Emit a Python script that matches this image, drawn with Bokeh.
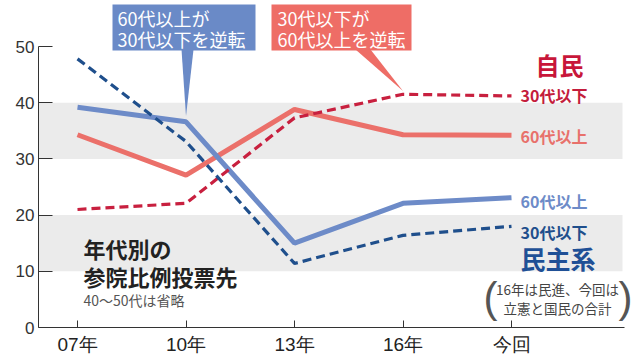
from bokeh.plotting import figure
from bokeh.models import Range1d, FixedTicker, BoxAnnotation, Label, PolyAnnotation
from bokeh.embed import file_html
from bokeh.resources import INLINE

# ---- data ----
years = ["07年", "10年", "13年", "16年", "今回"]
x_idx = [0, 1, 2, 3, 4]
jimin_u30 = [21.0, 22.1, 37.3, 41.5, 41.2]
jimin_o60 = [34.3, 27.1, 38.8, 34.3, 34.2]
minshu_o60 = [39.2, 36.6, 15.0, 22.1, 23.1]
minshu_u30 = [47.8, 33.1, 11.4, 16.4, 18.0]
y_ticks = [0, 10, 20, 30, 40, 50]

# ---- layout helpers (picture pixel -> data units, for annotations only) ----
X0, DX = 77.0, 108.5
Y0, DY = 327.0, 5.62
def X(px):
    return (px - X0) / DX
def Y(py):
    return (Y0 - py) / DY

W, H = 635, 357
x_start, x_end = X(38), X(635)
y_start, y_end = 0, Y(0)

p = figure(width=W, height=H, output_backend="svg", toolbar_location=None,
           x_range=Range1d(x_start, x_end), y_range=Range1d(y_start, y_end),
           min_border_left=38, min_border_right=0, min_border_top=0,
           min_border_bottom=30)
p.outline_line_color = None
p.xgrid.visible = False
p.ygrid.visible = False
p.background_fill_color = "white"

JP = "Noto Sans CJK JP"
NUM = "Liberation Sans"

# gray bands
for b, t in [(30, 40), (10, 20)]:
    p.add_layout(BoxAnnotation(bottom=b, top=t, left=x_start, right=X(622),
                               fill_color="#ebebeb", fill_alpha=1, line_color=None,
                               level="underlay"))

# lines
p.line(x_idx, jimin_o60, line_color="#eb706a", line_width=5)
p.line(x_idx, minshu_o60, line_color="#6d8bc8", line_width=5)
p.line(x_idx, jimin_u30, line_color="#c8203f", line_width=3.2, line_dash="9 5")
p.line(x_idx, minshu_u30, line_color="#1f4f8c", line_width=3.2, line_dash="9 5")

# axes
yax = p.yaxis[0]
yax.ticker = FixedTicker(ticks=y_ticks)
yax.bounds = (0, 50)
yax.major_tick_in = 14
yax.major_tick_out = 0
yax.minor_tick_line_color = None
yax.axis_line_color = "#333333"
yax.major_tick_line_color = "#333333"
yax.major_label_text_font = NUM
yax.major_label_text_font_size = "17px"
yax.major_label_text_color = "#333333"
yax.major_label_standoff = 4

xax = p.xaxis[0]
xax.ticker = FixedTicker(ticks=x_idx)
xax.major_label_overrides = {i: s for i, s in zip(x_idx, years)}
xax.bounds = (x_start, X(624))
xax.major_tick_in = 7
xax.major_tick_out = 0
xax.minor_tick_line_color = None
xax.axis_line_color = "#333333"
xax.major_tick_line_color = "#333333"
xax.major_label_text_font = NUM
xax.major_label_text_font_size = "19px"
xax.major_label_text_color = "#222222"
xax.major_label_standoff = 6

def lab(px, py, text, size, color, bold=False, align="left", font=JP):
    p.add_layout(Label(x=X(px), y=Y(py), text=text, text_font=font,
                       text_font_size=f"{size}px", text_color=color,
                       text_font_style="bold" if bold else "normal",
                       text_align=align, text_baseline="middle"))

# (%)
lab(25, 24, "(%)", 14, "#333333", align="center", font=NUM)

# callout boxes
BLUE_BOX = "#6a8ac7"
RED_BOX = "#ee6d66"
p.add_layout(BoxAnnotation(left=X(112), right=X(255), bottom=Y(50), top=Y(4),
                           fill_color=BLUE_BOX, fill_alpha=1, line_color=None))
p.add_layout(PolyAnnotation(xs=[X(181), X(193), 1], ys=[Y(49), Y(49), minshu_o60[1] + 1.0],
                            fill_color=BLUE_BOX, fill_alpha=1, line_color=None))
p.add_layout(BoxAnnotation(left=X(271), right=X(411), bottom=Y(50), top=Y(4),
                           fill_color=RED_BOX, fill_alpha=1, line_color=None))
p.add_layout(PolyAnnotation(xs=[X(355), X(370), 3], ys=[Y(49), Y(49), jimin_u30[3] + 0.6],
                            fill_color=RED_BOX, fill_alpha=1, line_color=None))
lab(117, 17, "60代以上が", 18, "white")
lab(117, 38, "30代以下を逆転", 18, "white")
lab(277, 17, "30代以下が", 18, "white")
lab(277, 38, "60代以上を逆転", 18, "white")

# right labels
lab(559, 64, "自民", 24, "#c8163a", bold=True, align="center")
lab(520, 94, "30代以下", 16, "#c41d3c", bold=True)
lab(520, 135, "60代以上", 16, "#e8716b", bold=True)
lab(520, 200, "60代以上", 16, "#6d8bc8", bold=True)
lab(520, 231, "30代以下", 16, "#1f4f8c", bold=True)
lab(520, 257, "民主系", 25, "#1f5096", bold=True)
lab(557, 288, "16年は民進、今回は", 13.5, "#444444", align="center")
lab(557, 307, "立憲と国民の合計", 13.5, "#444444", align="center")
lab(490, 297, "(", 42, "#555555", align="center", font=NUM)
lab(625, 297, ")", 42, "#555555", align="center", font=NUM)

# title block
lab(83, 247, "年代別の", 22, "#222222", bold=True)
lab(83, 275, "参院比例投票先", 22, "#222222", bold=True)
lab(83, 299, "40〜50代は省略", 14, "#555555")

open("out.html", "w").write(file_html(p, INLINE))
